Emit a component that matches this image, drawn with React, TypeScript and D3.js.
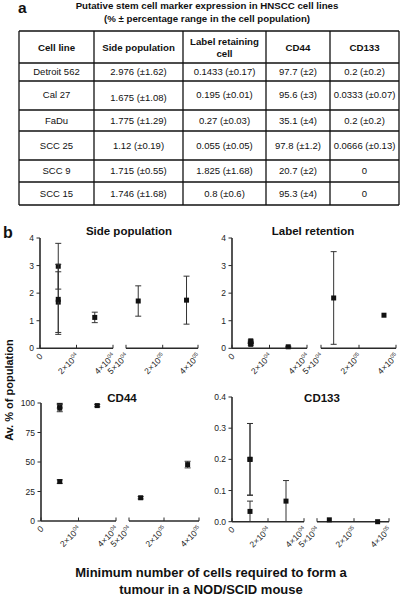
import React from "react";
import * as d3 from "d3";

const FONT = "'Liberation Sans', Arial, Helvetica, sans-serif";

// ---------- Table (panel a) ----------
const tableTitle = [
  "Putative stem cell marker expression in HNSCC cell lines",
  "(% ± percentage range in the cell population)",
];
const tableHeaders = [["Cell line"], ["Side population"], ["Label retaining", "cell"], ["CD44"], ["CD133"]];
const cellLines = ["Detroit 562", "Cal 27", "FaDu", "SCC 25", "SCC 9", "SCC 15"];
const sidePopCells = ["2.976 (±1.62)", "1.675 (±1.08)", "1.775 (±1.29)", "1.12 (±0.19)", "1.715 (±0.55)", "1.746 (±1.68)"];
const labelCells = ["0.1433 (±0.17)", "0.195 (±0.01)", "0.27 (±0.03)", "0.055 (±0.05)", "1.825 (±1.68)", "0.8 (±0.6)"];
const cd44Cells = ["97.7 (±2)", "95.6 (±3)", "35.1 (±4)", "97.8 (±1.2)", "20.7 (±2)", "95.3 (±4)"];
const cd133Cells = ["0.2 (±0.2)", "0.0333 (±0.07)", "0.2 (±0.2)", "0.0666 (±0.13)", "0", "0"];

// ---------- Charts (panel b) ----------
const minCells = [1e4, 1e4, 1e4, 3e4, 1e5, 3.35e5];
const sidePopMean = [2.976, 1.675, 1.775, 1.12, 1.715, 1.746];
const sidePopErr = [0.83, 1.1, 1.27, 0.19, 0.55, 0.87];
const labelRetMean = [0.143, 0.195, 0.27, 0.055, 1.825, 1.2];
const labelRetErr = [0.03, 0.01, 0.03, 0.02, 1.68, 0];
const cd44Mean = [97.7, 95.6, 33.4, 97.8, 19.7, 47.8];
const cd44Err = [2, 3, 1.5, 1, 1, 2.8];
const cd133Mean = [0.2, 0.033, 0.2, 0.066, 0.006, 0];
const cd133Err = [0.115, 0.033, 0.115, 0.066, 0, 0];

const xTicksLow = [0, 2e4, 4e4];
const xTicksHigh = [5e4, 2e5, 4e5];
const ticks0to4 = [0, 1, 2, 3, 4];
const ticksCD44 = [0, 25, 50, 75, 100];
const ticksCD133 = [0, 0.1, 0.2, 0.3, 0.4];

const yTitle = "Av. % of population";
const xTitle = ["Minimum number of cells required to form a", "tumour in a NOD/SCID mouse"];

// ---------- layout ----------
const colX = [19, 94, 183, 266, 330, 399];
const rowY = [31, 63, 81, 110, 131, 160, 182, 205];

type PanelCfg = {
  title: string;
  tx: number;
  ty: number;
  mean: number[];
  err: number[];
  yTicks: number[];
  yFmt: (d: number) => string;
  ax: number; // y axis x
  y0: number;
  y1: number;
  lowEnd: number;
  highStart: number;
  highMid: number;
  highEnd: number;
};

const panels: PanelCfg[] = [
  {
    title: "Side population", tx: 129, ty: 235, mean: sidePopMean, err: sidePopErr,
    yTicks: ticks0to4, yFmt: (d) => String(d),
    ax: 40, y0: 348.3, y1: 238, lowEnd: 113, highStart: 126, highMid: 162.7, highEnd: 198,
  },
  {
    title: "Label retention", tx: 313, ty: 235, mean: labelRetMean, err: labelRetErr,
    yTicks: ticks0to4, yFmt: (d) => String(d),
    ax: 232, y0: 348.3, y1: 238, lowEnd: 307, highStart: 321, highMid: 359, highEnd: 396,
  },
  {
    title: "CD44", tx: 122, ty: 402, mean: cd44Mean, err: cd44Err,
    yTicks: ticksCD44, yFmt: (d) => String(d),
    ax: 41, y0: 521, y1: 403, lowEnd: 116, highStart: 129, highMid: 164, highEnd: 199,
  },
  {
    title: "CD133", tx: 322, ty: 402, mean: cd133Mean, err: cd133Err,
    yTicks: ticksCD133, yFmt: d3.format(".1f"),
    ax: 232, y0: 521.7, y1: 397, lowEnd: 304, highStart: 317, highMid: 354, highEnd: 389,
  },
];

const AXIS = "#2a2a2a";
const TXT = "#222";

function tickLabel(v: number) {
  if (v === 0) return { mant: "0", sup: "" };
  const e = Math.floor(Math.log10(v));
  const m = Math.round(v / Math.pow(10, e));
  return { mant: `${m}×10`, sup: `0${e}` };
}

function Panel({ p }: { p: PanelCfg }) {
  const yMax = p.yTicks[p.yTicks.length - 1];
  const y = d3.scaleLinear().domain([0, yMax]).range([p.y0, p.y1]);
  const xLow = d3.scaleLinear().domain([0, 4e4]).range([p.ax, p.lowEnd]);
  const xHigh = d3.scaleLinear().domain([5e4, 2e5, 4e5]).range([p.highStart, p.highMid, p.highEnd]);
  const xOf = (v: number) => (v <= 4e4 ? xLow(v) : xHigh(v));
  const xTicks = [
    ...xTicksLow.map((v) => ({ v, x: xLow(v) })),
    ...xTicksHigh.map((v) => ({ v, x: xHigh(v) })),
  ];
  const ms = 5;
  const cap = 3;
  return (
    <g>
      <text x={p.tx} y={p.ty} textAnchor="middle" fontWeight="bold" fontSize={11.5} fill="#111">
        {p.title}
      </text>
      {/* y axis */}
      <line x1={p.ax} x2={p.ax} y1={y(0)} y2={y(yMax)} stroke={AXIS} strokeWidth={1.6} />
      {p.yTicks.map((t) => (
        <g key={t}>
          <line x1={p.ax - 3.5} x2={p.ax} y1={y(t)} y2={y(t)} stroke={AXIS} strokeWidth={1} />
          <text x={p.ax - 6} y={y(t) + 3} textAnchor="end" fontSize={8.5} fill={TXT}>
            {p.yFmt(t)}
          </text>
        </g>
      ))}
      {/* x axis two segments */}
      <line x1={p.ax} x2={p.lowEnd} y1={p.y0} y2={p.y0} stroke={AXIS} strokeWidth={1.6} />
      <line x1={p.highStart} x2={p.highEnd} y1={p.y0} y2={p.y0} stroke={AXIS} strokeWidth={1.6} />
      {xTicks.map((t, i) => {
        const lab = tickLabel(t.v);
        return (
          <g key={i}>
            <line x1={t.x} x2={t.x} y1={p.y0} y2={p.y0 - 3.5} stroke={AXIS} strokeWidth={1} />
            <text
              transform={`translate(${t.x + 3},${p.y0 + 8.5}) rotate(-45)`}
              textAnchor="end"
              fontSize={8.5}
              fill={TXT}
            >
              {lab.mant}
              {lab.sup && (
                <tspan fontSize={5.5} dy={-3.5}>
                  {lab.sup}
                </tspan>
              )}
            </text>
          </g>
        );
      })}
      {/* error bars + markers */}
      {p.mean.map((m, i) => {
        const cx = xOf(minCells[i]);
        const e = p.err[i];
        const yt = y(m + e);
        const yb = y(Math.max(0, m - e));
        return (
          <g key={i}>
            {e > 0 && (
              <g stroke="#333" strokeWidth={1}>
                <line x1={cx} x2={cx} y1={yt} y2={yb} />
                <line x1={cx - cap} x2={cx + cap} y1={yt} y2={yt} />
                {m - e > 0.0001 && <line x1={cx - cap} x2={cx + cap} y1={yb} y2={yb} />}
              </g>
            )}
            <rect x={cx - ms / 2} y={y(m) - ms / 2} width={ms} height={ms} fill="#111" />
          </g>
        );
      })}
    </g>
  );
}

export default function App() {
  const cols = [cellLines, sidePopCells, labelCells, cd44Cells, cd133Cells];
  const colCenter = (c: number) => (colX[c] + colX[c + 1]) / 2;
  return (
    <svg
      width={408}
      height={597}
      viewBox="0 0 408 597"
      style={{ position: "absolute", left: 0, top: 0, background: "#fff" }}
      fontFamily={FONT}
    >
      <rect width={408} height={597} fill="#fff" />
      {/* panel a */}
      <text x={18} y={12.5} fontSize={15.5} fontWeight="bold" fill="#111">a</text>
      <text x={207} y={8.8} textAnchor="middle" fontSize={9.7} fontWeight="bold" fill="#111">
        {tableTitle[0]}
      </text>
      <text x={207} y={22.3} textAnchor="middle" fontSize={9.7} fontWeight="bold" fill="#111">
        {tableTitle[1]}
      </text>
      <g stroke="#111" strokeWidth={1.3}>
        {rowY.map((ry, i) => (
          <line key={"r" + i} x1={colX[0]} x2={colX[colX.length - 1]} y1={ry} y2={ry} />
        ))}
        {colX.map((cx, i) => (
          <line key={"c" + i} x1={cx} x2={cx} y1={rowY[0]} y2={rowY[rowY.length - 1]} />
        ))}
      </g>
      {tableHeaders.map((h, c) => {
        const cy = (rowY[0] + rowY[1]) / 2;
        const lh = 12;
        const start = cy - ((h.length - 1) * lh) / 2;
        return h.map((line, k) => (
          <text
            key={c + "-" + k}
            x={colCenter(c)}
            y={start + k * lh + 3.5}
            textAnchor="middle"
            fontSize={9.7}
            fontWeight="bold"
            fill="#111"
          >
            {line}
          </text>
        ));
      })}
      {cols.map((col, c) =>
        col.map((v, r) => {
          const cy = (rowY[r + 1] + rowY[r + 2]) / 2;
          const adj = r === 1 ? (c === 1 ? 2 : -1) : 0;
          return (
            <text
              key={c + "_" + r}
              x={colCenter(c)}
              y={cy + 3.4 + adj}
              textAnchor="middle"
              fontSize={9.5}
              fill="#111"
            >
              {v}
            </text>
          );
        })
      )}

      {/* panel b */}
      <text x={3} y={238} fontSize={16} fontWeight="bold" fill="#111">b</text>
      {panels.map((p, i) => (
        <Panel key={i} p={p} />
      ))}
      <text
        transform="translate(13,390) rotate(-90)"
        textAnchor="middle"
        fontSize={11}
        fontWeight="bold"
        fill="#111"
      >
        {yTitle}
      </text>
      <text x={211} y={576.5} textAnchor="middle" fontSize={13} fontWeight="bold" fill="#111">
        {xTitle[0]}
      </text>
      <text x={211} y={593.5} textAnchor="middle" fontSize={13} fontWeight="bold" fill="#111">
        {xTitle[1]}
      </text>
    </svg>
  );
}
